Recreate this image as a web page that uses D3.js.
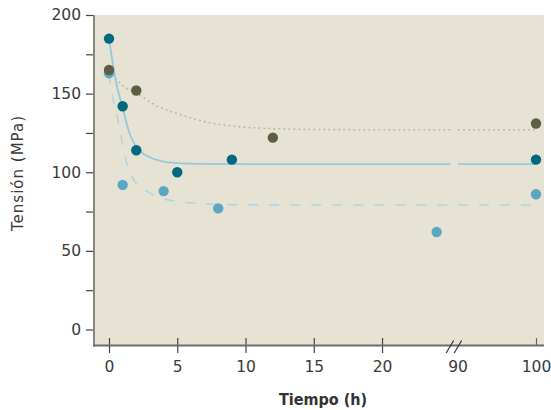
<!DOCTYPE html>
<html>
<head>
<meta charset="utf-8">
<script src="https://cdn.jsdelivr.net/npm/d3@7"></script>
<style>
  html, body { margin: 0; padding: 0; background: #ffffff; }
  svg { display: block; }
</style>
</head>
<body>
<svg id="chart" width="551" height="410"></svg>
<script>
// ---- Data ----
// Measured points (time in h, stress in MPa)
const timeDark  = [0, 1, 2, 5, 9, 100];
const stressDark = [185, 142, 114, 100, 108, 108];
const timeOlive = [0, 2, 12, 100];
const stressOlive = [165, 152, 122, 131];
const timeLight = [0, 1, 4, 8, 24, 100];
const stressLight = [163, 92, 88, 77, 62, 86];

// Fitted curves
const fitDarkX = [0, 0.5, 1, 1.5, 2, 3, 4, 5, 7, 10, 15, 20, 25];
const fitDarkY = [185, 158, 141, 125, 116, 109.5, 106.7, 105.8, 105.3, 105.2, 105.2, 105.2, 105.2];
const fitOliveX = [0, 0.81, 2.15, 3.37, 4.59, 5.81, 7.03, 9.47, 11.9, 16.6, 25];
const fitOliveY = [165, 156.6, 149.6, 142.8, 138.5, 135, 132.2, 129, 127.8, 127.1, 127];
const fitLightX = [0, 0.2, 0.56, 0.93, 1.3, 1.66, 2.64, 3.86, 5.08, 6.3, 8, 10, 15, 20, 25];
const fitLightY = [163, 151, 137.5, 120.5, 105.7, 97.2, 88.7, 83.5, 81.3, 80.3, 79.6, 79.3, 79.2, 79.2, 79.2];
const fitTailX = [90, 100];
const fitDarkTail = [105.2, 105.2];
const fitOliveTail = [127, 127];
const fitLightTail = [79.2, 79.2];

// Axis ticks
const yTicks = [0, 25, 50, 75, 100, 125, 150, 175, 200];
const xTicksLeft = [0, 5, 10, 15, 20];
const xTickRight = [100];
const xBreakLabel = 90;

const yTitle = "Tensión (MPa)";
const xTitle = "Tiempo (h)";

// ---- Layout ----
const svg = d3.select("#chart");
const plot = { left: 94, right: 544, top: 15, bottom: 345.5 };

const y = d3.scaleLinear().domain([0, 200]).range([329.5, 15]);
const x1 = d3.scaleLinear().domain([0, 25]).range([109, 450.3]);
const x2 = d3.scaleLinear().domain([90, 100]).range([458, 536]);
const xPos = t => (t <= 25 ? x1(t) : x2(t));

const colDark = "#00687f", colOlive = "#5d5e42", colLight = "#5ba7c1";
const textCol = "#3a3a3a";
const tickFont = "'DejaVu Sans', sans-serif";

// Background
svg.append("rect")
  .attr("x", plot.left).attr("y", plot.top)
  .attr("width", plot.right - plot.left).attr("height", plot.bottom - plot.top)
  .attr("fill", "#e6e3d5");

// Curves
const line = d3.line().x(d => xPos(d[0])).y(d => y(d[1])).curve(d3.curveMonotoneX);
function curve(xs, ys, style) {
  const p = svg.append("path")
    .attr("d", line(xs.map((v, i) => [v, ys[i]])))
    .attr("fill", "none")
    .attr("stroke", style.color)
    .attr("stroke-width", style.width);
  if (style.dash) p.attr("stroke-dasharray", style.dash);
}
const sOlive = { color: "#bdb9ab", width: 1.6, dash: "2,3" };
const sLight = { color: "#b1d5e3", width: 1.6, dash: "10,11" };
const sDark = { color: "#97c8dc", width: 1.8 };
curve(fitOliveX, fitOliveY, sOlive);
curve(fitTailX, fitOliveTail, sOlive);
curve(fitLightX, fitLightY, sLight);
curve(fitTailX, fitLightTail, sLight);
curve(fitDarkX, fitDarkY, sDark);
curve(fitTailX, fitDarkTail, sDark);

// Points
function pts(ts, vs, color) {
  svg.append("g").selectAll("circle")
    .data(ts.map((t, i) => [t, vs[i]]))
    .join("circle")
    .attr("cx", d => xPos(d[0]))
    .attr("cy", d => y(d[1]))
    .attr("r", 5.2)
    .attr("fill", color);
}
pts(timeLight, stressLight, colLight);
pts(timeOlive, stressOlive, colOlive);
pts(timeDark, stressDark, colDark);

// Y axis
const yAxis = d3.axisLeft(y)
  .tickValues(yTicks)
  .tickSize(8)
  .tickPadding(5)
  .tickFormat(d => (d % 50 === 0 ? d : ""));
const gy = svg.append("g").attr("transform", `translate(${plot.left},0)`).call(yAxis);
gy.select(".domain").remove();
gy.selectAll(".tick line").attr("stroke", "#444").attr("stroke-width", 1.2);
gy.selectAll(".tick text").attr("fill", textCol).style("font-family", tickFont).style("font-size", "15.5px");

// X axis (left segment)
const xAxisL = d3.axisBottom(x1).tickValues(xTicksLeft).tickSize(7.5).tickPadding(0);
const gx = svg.append("g").attr("transform", `translate(0,${plot.bottom})`).call(xAxisL);
gx.select(".domain").remove();
gx.selectAll(".tick line").attr("y1", -7.5).attr("y2", 7.5).attr("stroke", "#444").attr("stroke-width", 1.2);
gx.selectAll(".tick text").attr("y", 15.5).attr("fill", textCol).style("font-family", tickFont).style("font-size", "15.5px");

// X axis (right segment)
const xAxisR = d3.axisBottom(x2).tickValues(xTickRight).tickSize(7.5).tickPadding(0);
const gx2 = svg.append("g").attr("transform", `translate(0,${plot.bottom})`).call(xAxisR);
gx2.select(".domain").remove();
gx2.selectAll(".tick line").attr("y1", -7.5).attr("y2", 0).attr("stroke", "#666").attr("stroke-width", 1.2);
gx2.selectAll(".tick text").attr("y", 15.5).attr("fill", textCol).style("font-family", tickFont).style("font-size", "15.5px");

// Break label "90"
svg.append("text")
  .attr("x", x2(xBreakLabel)).attr("y", plot.bottom + 15.5).attr("dy", "0.71em")
  .attr("text-anchor", "middle")
  .attr("fill", textCol).style("font-family", tickFont).style("font-size", "15.5px")
  .text(xBreakLabel);

// Axis lines
svg.append("line")
  .attr("x1", plot.left).attr("x2", plot.left)
  .attr("y1", plot.top).attr("y2", plot.bottom + 1)
  .attr("stroke", "#8a877f").attr("stroke-width", 2);
svg.append("line")
  .attr("x1", plot.left - 1).attr("x2", plot.right)
  .attr("y1", plot.bottom).attr("y2", plot.bottom)
  .attr("stroke", "#6f6c65").attr("stroke-width", 1.8);

// Break marks
const bx = (x1.range()[1] + x2.range()[0]) / 2;
[-4, 4].forEach(off => {
  svg.append("line")
    .attr("x1", bx + off - 4).attr("y1", plot.bottom + 7.5)
    .attr("x2", bx + off + 3.5).attr("y2", plot.bottom - 5)
    .attr("stroke", "#333").attr("stroke-width", 1.2);
});

// Axis titles
svg.append("text")
  .attr("transform", `translate(23,173) rotate(-90)`)
  .attr("text-anchor", "middle")
  .attr("fill", textCol)
  .style("font-family", tickFont)
  .style("font-size", "15px")
  .style("letter-spacing", "1px")
  .text(yTitle);

svg.append("text")
  .attr("x", 323).attr("y", 405)
  .attr("text-anchor", "middle")
  .attr("fill", "#333")
  .style("font-family", "'DejaVu Sans', sans-serif")
  .style("font-stretch", "condensed")
  .style("font-weight", "bold")
  .style("font-size", "16px")
  .text(xTitle);
</script>
</body>
</html>
